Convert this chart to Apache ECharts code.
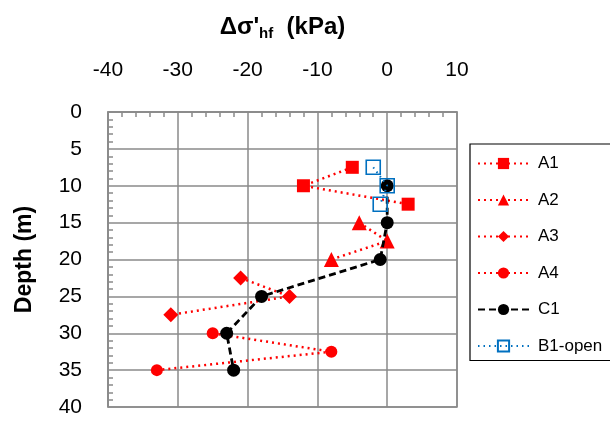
<!DOCTYPE html>
<html>
<head>
<meta charset="utf-8">
<script src="https://cdn.jsdelivr.net/npm/echarts@6/dist/echarts.min.js"></script>
<style>html,body{margin:0;padding:0;background:#fff}#c{width:610px;height:421px}</style>
</head>
<body>
<div id="c"></div>
<script>
const seriesNames = ['A1', 'A2', 'A3', 'A4', 'C1', 'B1-open'];
const A1 = [[-5, 7.5], [-12, 10], [3, 12.5]];
const A2 = [[-4, 15], [0, 17.5], [-8, 20]];
const A3 = [[-21, 22.5], [-14, 25], [-31, 27.5]];
const A4 = [[-25, 30], [-8, 32.5], [-33, 35]];
const C1 = [[0, 10], [0, 15], [-1, 20], [-18, 25], [-23, 30], [-22, 35]];
const B1 = [[-2, 7.5], [0, 10], [-1, 12.5]];
const xTicks = [-40, -30, -20, -10, 0, 10];
const yTicks = [0, 5, 10, 15, 20, 25, 30, 35, 40];

const FONT = 'Liberation Sans';
const RED = '#ff0000';
const GRID = '#8a8a8a';

function redSeries(name, data, symbol, size) {
  return {
    name, type: 'line', data, symbol, symbolSize: size,
    lineStyle: { color: RED, width: 2.5, type: [2, 4] },
    itemStyle: { color: RED },
    z: 2
  };
}

const chart = echarts.init(document.getElementById('c'), null, { renderer: 'canvas' });
chart.setOption({
  animation: false,
  backgroundColor: '#fff',
  textStyle: { fontFamily: FONT },
  grid: { left: 108, top: 112, width: 349, height: 295, containLabel: false, outerBoundsMode: 'none', show: true, borderColor: GRID, borderWidth: 1.5, backgroundColor: 'transparent' },
  legend: {
    orient: 'vertical', left: 470, top: 144,
    data: seriesNames,
    itemWidth: 51, itemHeight: 14, itemGap: 19.5,
    padding: [11, 80, 6, 7],
    borderColor: '#000', borderWidth: 1.2,
    textStyle: { fontFamily: FONT, fontSize: 17, color: '#000', padding: [0, 0, 0, 4] }
  },
  xAxis: {
    type: 'value', position: 'top', min: xTicks[0], max: xTicks[xTicks.length - 1], interval: 10,
    name: "{b|Δσ'}{s|hf}{b|  (kPa)}", nameLocation: 'middle', nameGap: 71,
    nameTextStyle: { rich: {
      b: { fontFamily: FONT, fontSize: 24, fontWeight: 'bold', color: '#000' },
      s: { fontFamily: FONT, fontSize: 15, fontWeight: 'bold', color: '#000', verticalAlign: 'bottom', padding: [12, 0, 0, 0] }
    } },
    axisLine: { show: true, onZero: false, lineStyle: { color: GRID, width: 1.5 } },
    axisTick: { show: false, inside: true },
    minorTick: { show: true, splitNumber: 5, length: 5, lineStyle: { color: GRID, width: 1.5 } },
    axisLabel: { fontFamily: FONT, fontSize: 21, color: '#000', margin: 31 },
    splitLine: { show: true, lineStyle: { color: GRID, width: 1.5 } }
  },
  yAxis: {
    type: 'value', inverse: true, min: yTicks[0], max: yTicks[yTicks.length - 1], interval: 5,
    name: 'Depth (m)', nameLocation: 'middle', nameGap: 72,
    nameTextStyle: { fontFamily: FONT, fontSize: 23, fontWeight: 'bold', color: '#000' },
    axisLine: { show: true, onZero: false, lineStyle: { color: GRID, width: 1.5 } },
    axisTick: { show: false, inside: true },
    minorTick: { show: true, splitNumber: 5, length: 5, lineStyle: { color: GRID, width: 1.5 } },
    axisLabel: { fontFamily: FONT, fontSize: 21, color: '#000', margin: 26, padding: [6, 0, 0, 0] },
    splitLine: { show: true, lineStyle: { color: GRID, width: 1.5 } }
  },
  series: [
    redSeries('A1', A1, 'rect', 13),
    redSeries('A2', A2, 'triangle', 15),
    redSeries('A3', A3, 'diamond', 15),
    redSeries('A4', A4, 'circle', 12),
    {
      name: 'C1', type: 'line', data: C1, symbol: 'circle', symbolSize: 13,
      lineStyle: { color: '#000', width: 2.8, type: [7, 4] },
      itemStyle: { color: '#000' }, z: 3
    },
    {
      name: 'B1-open', type: 'line', data: B1, symbol: 'rect', symbolSize: 14,
      lineStyle: { color: '#0070c0', width: 2, type: [1.5, 4] },
      itemStyle: { color: 'rgba(0,0,0,0)', borderColor: '#0070c0', borderWidth: 1.6 }, z: 4
    }
  ]
});
</script>
</body>
</html>
